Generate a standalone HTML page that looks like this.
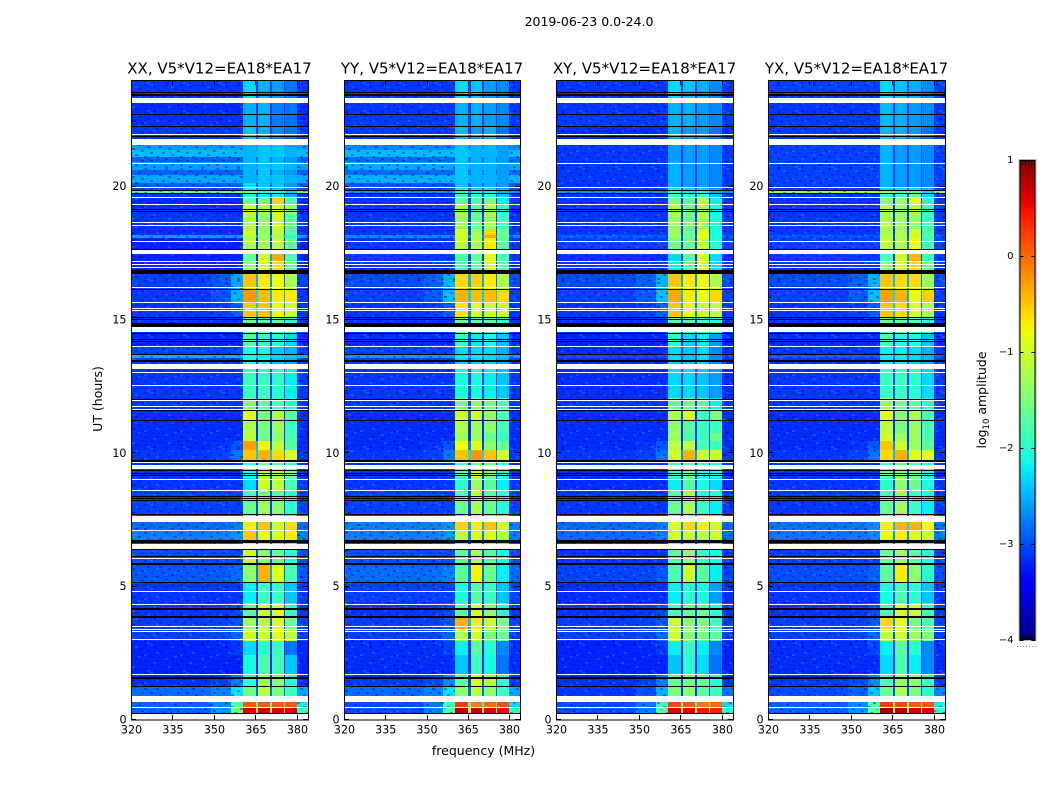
<!DOCTYPE html>
<html lang="en">
<head>
<meta charset="utf-8">
<title>2019-06-23 0.0-24.0 amplitude waterfall</title>
<style>
html,body{margin:0;padding:0;background:#fff;width:1050px;height:800px;overflow:hidden}
svg{display:block}
text{font-family:"DejaVu Sans","Liberation Sans",sans-serif;fill:#000}
</style>
</head>
<body>
<svg id="chart" xmlns="http://www.w3.org/2000/svg" width="1050" height="800" viewBox="0 0 1050 800">
  <defs>
    <!-- Decorative, hand-placed speckle tile that imitates receiver noise; it carries no data. -->
    <pattern id="grain" x="0" y="0" width="36" height="28" patternUnits="userSpaceOnUse">
      <g fill="#0000a0" fill-opacity="0.4" shape-rendering="crispEdges">
        <rect x="0" y="0" width="3" height="2"/><rect x="9" y="2" width="3" height="2"/><rect x="21" y="0" width="3" height="2"/>
        <rect x="30" y="4" width="3" height="2"/><rect x="3" y="6" width="3" height="2"/><rect x="15" y="6" width="3" height="2"/>
        <rect x="24" y="8" width="3" height="2"/><rect x="33" y="10" width="3" height="2"/><rect x="6" y="12" width="3" height="2"/>
        <rect x="18" y="12" width="3" height="2"/><rect x="0" y="16" width="3" height="2"/><rect x="12" y="16" width="3" height="2"/>
        <rect x="27" y="14" width="3" height="2"/><rect x="21" y="18" width="3" height="2"/><rect x="33" y="20" width="3" height="2"/>
        <rect x="6" y="20" width="3" height="2"/><rect x="15" y="22" width="3" height="2"/><rect x="27" y="24" width="3" height="2"/>
        <rect x="0" y="24" width="3" height="2"/><rect x="9" y="26" width="3" height="2"/><rect x="21" y="26" width="3" height="2"/>
      </g>
      <g fill="#30a0ff" fill-opacity="0.3" shape-rendering="crispEdges">
        <rect x="6" y="0" width="3" height="2"/><rect x="27" y="2" width="3" height="2"/><rect x="12" y="8" width="3" height="2"/>
        <rect x="0" y="10" width="3" height="2"/><rect x="30" y="12" width="3" height="2"/><rect x="21" y="14" width="3" height="2"/>
        <rect x="9" y="18" width="3" height="2"/><rect x="24" y="22" width="3" height="2"/><rect x="3" y="26" width="3" height="2"/>
      </g>
    </pattern>
  </defs>
  <rect x="0" y="0" width="1050" height="800" fill="#fff"/>
  <text x="589" y="26" font-size="12.5" text-anchor="middle">2019-06-23 0.0-24.0</text>
  <text x="0" y="0" font-size="12.5" text-anchor="middle" transform="translate(102 399) rotate(-90)">UT (hours)</text>
  <text x="483.5" y="755" font-size="12.5" text-anchor="middle">frequency (MHz)</text>
  <text x="0" y="0" font-size="12.5" text-anchor="middle" transform="translate(986 400) rotate(-90)">log<tspan font-size="8.5" dy="3">10</tspan><tspan dy="-3"> amplitude</tspan></text>
  <g id="panels"></g>
  <g id="colorbar"></g>
</svg>
<script>
// ---- Axis tick labels ----
const freqTicks = [320, 335, 350, 365, 380];
const utTicks = [0, 5, 10, 15, 20];
const colorTicks = [1, 0, -1, -2, -3, -4];

// ---- Row boundaries (UT hours, top to bottom); rows share these across polarisations ----
const rowEdgesUT = [24.0,23.12,22.29,21.58,21.36,21.13,20.91,20.61,20.42,20.12,19.97,19.86,19.78,19.63,19.33,18.96,18.43,18.17,18.06,17.49,17.19,16.74,16.11,15.66,15.13,14.53,14.01,13.71,13.56,13.18,12.06,11.64,11.23,10.78,10.48,10.11,9.66,9.43,9.06,8.61,8.23,7.41,7.14,6.62,5.83,5.16,4.37,3.81,3.36,2.98,2.42,1.74,1.26,0.88,0.66,0.47,0.24];

// ---- Frequency ranges (MHz) of each spectral group ----
const backgroundRange = [320, 349];
const nearShoulderRange = [349, 356];
const shoulderRange = [356, 360.5];
const subbandRanges = [[360.5, 365.2], [366, 370.3], [371, 375.3], [375.7, 380]];
const tailRange = [380, 384];

// ---- log10 amplitude per row: [background, subband1, subband2, subband3, subband4] ----
const xxLevels = [
[-3.1,-2.3,-2.5,-2.6,-2.8],[-3.15,-2.5,-2.5,-2.75,-2.8],[-3.1,-2.4,-2.5,-2.7,-2.8],
[-2.6,-2.5,-2.4,-2.4,-2.55],[-2.45,-2.5,-2.4,-2.4,-2.5],[-2.9,-2.5,-2.4,-2.5,-2.6],[-2.6,-2.5,-2.4,-2.4,-2.5],[-2.9,-2.5,-2.4,-2.5,-2.6],[-2.55,-2.5,-2.4,-2.4,-2.5],[-2.9,-2.3,-2.4,-2.4,-2.6],
[-3.0,-2.2,-2.3,-2.4,-2.6],[-1.6,-1.5,-2.0,-2.0,-2.3],[-3.1,-2.1,-2.2,-2.2,-2.5],
[-3.15,-1.6,-1.5,-0.55,-1.8],[-3.15,-1.0,-1.15,-0.95,-1.4],[-3.1,-1.2,-1.35,-1.0,-1.7],[-3.15,-1.0,-1.3,-1.1,-1.7],[-2.6,-1.15,-1.3,-1.2,-2.0],[-3.2,-1.15,-1.3,-1.1,-1.7],
[-3.2,-1.6,-1.0,-0.35,-1.8],[-3.2,-1.4,-1.0,-0.6,-1.7],[-3.05,-0.5,-0.7,-0.8,-1.2],[-3.1,-0.25,-0.45,-0.7,-0.7],[-3.1,-0.5,-0.5,-0.8,-1.0],[-3.1,-1.6,-1.7,-1.7,-2.0],
[-3.2,-1.8,-1.9,-2.0,-2.3],[-3.05,-2.1,-2.1,-2.4,-2.5],[-2.5,-2.1,-2.2,-2.3,-2.4],[-3.05,-2.1,-2.1,-2.4,-2.5],[-3.1,-1.9,-1.9,-2.0,-2.2],
[-3.1,-1.5,-1.7,-1.8,-2.1],[-3.15,-0.9,-1.5,-1.2,-1.7],[-3.15,-1.2,-1.5,-1.3,-1.9],[-3.15,-1.1,-1.6,-1.4,-1.8],[-3.15,-0.3,-0.75,-1.1,-1.7],[-3.1,-0.5,-0.4,-0.6,-0.9],
[-3.1,-1.9,-1.6,-1.7,-2.0],[-3.1,-2.1,-1.1,-1.1,-1.5],[-3.1,-2.3,-1.0,-1.1,-1.8],[-3.05,-1.8,-1.5,-1.7,-2.0],[-3.05,-1.6,-1.3,-1.4,-2.0],
[-2.85,-0.7,-0.5,-1.0,-0.6],[-2.75,-0.5,-0.8,-0.9,-0.7],[-3.0,-1.0,-1.4,-1.6,-2.0],[-2.95,-1.4,-0.4,-0.9,-1.8],[-3.1,-2.2,-1.9,-1.9,-2.4],
[-3.1,-1.7,-1.0,-0.9,-1.9],[-3.05,-1.3,-1.1,-0.9,-1.6],[-3.05,-1.0,-1.0,-0.9,-1.1],[-3.2,-2.3,-2.0,-1.9,-2.8],[-3.2,-2.1,-1.8,-1.85,-2.4],
[-3.15,-2.0,-1.3,-1.4,-2.0],[-2.85,-1.6,-1.1,-1.5,-1.9],[-2.9,0.0,0.0,0.0,0.0],[-2.9,0.1,0.1,0.1,0.1],[-2.9,0.65,0.65,0.6,0.6]
];
const yyLevels = [
[-3.1,-2.3,-2.4,-2.6,-2.7],[-3.1,-2.5,-2.5,-2.6,-2.7],[-3.1,-2.45,-2.6,-2.5,-2.8],
[-2.7,-2.4,-2.5,-2.5,-2.6],[-2.45,-2.4,-2.5,-2.5,-2.6],[-2.85,-2.4,-2.5,-2.5,-2.6],[-2.55,-2.4,-2.5,-2.5,-2.6],[-2.85,-2.4,-2.5,-2.5,-2.6],[-2.5,-2.4,-2.5,-2.5,-2.6],[-2.95,-2.4,-2.5,-2.5,-2.6],
[-3.0,-2.2,-2.3,-2.3,-2.5],[-2.6,-2.0,-2.2,-2.2,-2.5],[-3.1,-1.9,-2.0,-2.0,-2.4],
[-3.1,-1.7,-1.75,-1.5,-2.2],[-3.1,-1.2,-1.7,-1.2,-1.9],[-3.1,-1.3,-1.6,-1.3,-1.9],[-3.1,-1.0,-1.3,-0.6,-1.6],[-2.7,-1.0,-1.2,-0.35,-1.6],[-3.1,-1.1,-1.2,-0.7,-1.7],
[-3.1,-1.8,-1.6,-0.9,-1.8],[-3.1,-1.9,-1.7,-1.0,-1.8],[-3.0,-0.6,-0.55,-0.7,-1.2],[-3.05,-0.4,-0.45,-0.45,-0.6],[-3.1,-0.65,-0.9,-1.0,-1.0],[-3.1,-1.6,-1.7,-1.7,-1.9],
[-3.15,-1.9,-2.2,-2.1,-2.4],[-3.05,-2.3,-2.3,-2.3,-2.5],[-2.6,-2.2,-2.2,-2.3,-2.4],[-3.05,-2.3,-2.3,-2.3,-2.5],[-3.1,-2.1,-2.1,-2.2,-2.4],
[-3.1,-1.6,-1.4,-1.6,-1.8],[-3.15,-1.0,-1.0,-1.3,-1.8],[-3.15,-1.2,-1.3,-1.4,-1.8],[-3.15,-1.3,-1.3,-1.6,-1.9],[-3.15,-0.8,-0.9,-1.4,-1.6],[-3.1,-0.5,-0.25,-0.5,-1.0],
[-3.1,-1.9,-1.6,-1.7,-2.0],[-3.1,-1.7,-1.0,-1.5,-1.9],[-3.1,-2.0,-1.3,-1.7,-2.2],[-3.05,-1.7,-1.1,-1.7,-1.9],[-3.05,-1.6,-1.2,-1.6,-2.0],
[-2.75,-0.55,-0.7,-0.5,-1.0],[-2.75,-1.1,-0.9,-0.9,-1.2],[-3.0,-1.7,-1.2,-1.7,-2.1],[-2.85,-1.7,-0.75,-1.6,-2.2],[-3.05,-2.1,-1.7,-1.9,-2.4],
[-3.1,-1.7,-0.9,-1.4,-2.0],[-3.05,-0.4,-0.7,-1.0,-1.5],[-3.05,-1.2,-1.0,-1.5,-1.6],[-3.15,-2.2,-1.7,-2.0,-2.7],[-3.15,-2.4,-1.9,-2.1,-2.8],
[-3.1,-1.7,-0.9,-1.2,-2.0],[-2.85,-1.4,-1.1,-1.4,-1.9],[-3.0,0.0,0.0,0.0,0.0],[-3.0,0.25,-0.1,0.0,0.15],[-3.0,0.75,0.7,0.6,0.5]
];
const xyLevels = [
[-3.1,-2.3,-2.4,-2.5,-2.7],[-3.1,-2.5,-2.5,-2.6,-2.7],[-3.15,-2.5,-2.6,-2.6,-2.8],
[-3.1,-2.6,-2.6,-2.6,-2.7],[-3.1,-2.6,-2.6,-2.6,-2.7],[-3.1,-2.6,-2.6,-2.6,-2.7],[-3.1,-2.5,-2.6,-2.6,-2.7],[-3.1,-2.5,-2.6,-2.6,-2.7],[-3.1,-2.5,-2.6,-2.6,-2.7],[-3.1,-2.5,-2.6,-2.6,-2.7],
[-3.05,-2.2,-2.3,-2.3,-2.6],[-2.6,-2.0,-2.2,-2.1,-2.5],[-3.1,-1.9,-2.0,-1.9,-2.4],
[-3.1,-1.5,-1.7,-1.1,-2.2],[-3.1,-1.2,-1.6,-1.2,-2.1],[-3.1,-1.3,-1.55,-1.2,-2.1],[-3.1,-1.3,-1.6,-0.9,-2.1],[-2.9,-1.3,-1.6,-0.8,-2.1],[-3.05,-1.5,-1.6,-1.0,-2.0],
[-3.15,-2.3,-1.7,-0.9,-2.3],[-3.1,-2.2,-1.7,-0.9,-2.3],[-3.0,-0.5,-0.7,-0.8,-1.2],[-3.05,-0.35,-0.7,-0.8,-0.6],[-3.1,-0.5,-0.8,-1.0,-1.1],[-3.1,-1.8,-1.7,-1.8,-2.0],
[-3.2,-2.0,-2.3,-2.2,-2.6],[-3.15,-2.3,-2.4,-2.3,-2.7],[-3.0,-2.3,-2.4,-2.3,-2.7],[-3.15,-2.3,-2.4,-2.3,-2.7],[-3.15,-2.3,-2.3,-2.4,-2.6],
[-3.1,-1.7,-1.6,-1.7,-2.2],[-3.15,-1.2,-0.9,-1.9,-1.5],[-3.15,-1.4,-1.7,-1.9,-1.9],[-3.15,-1.3,-1.8,-1.9,-1.6],[-3.15,-1.1,-1.1,-1.8,-1.9],[-3.1,-1.0,-0.4,-1.0,-1.0],
[-3.1,-1.9,-1.6,-1.9,-2.1],[-3.15,-1.9,-1.5,-2.0,-2.0],[-3.15,-2.2,-1.7,-2.1,-2.3],[-3.1,-1.7,-1.2,-2.0,-2.0],[-3.1,-1.6,-1.2,-1.9,-2.2],
[-2.85,-0.9,-0.6,-0.7,-1.0],[-2.85,-1.0,-1.0,-1.1,-1.0],[-3.1,-1.7,-1.3,-1.9,-2.1],[-3.05,-1.8,-1.0,-1.7,-2.2],[-3.15,-2.2,-2.0,-2.1,-2.6],
[-3.1,-1.8,-1.6,-1.6,-2.0],[-3.05,-1.0,-1.4,-1.5,-1.9],[-3.05,-1.0,-1.4,-1.5,-1.7],[-3.2,-2.2,-1.9,-2.2,-2.7],[-3.2,-2.4,-2.0,-2.3,-2.8],
[-3.15,-1.6,-1.5,-1.6,-2.0],[-3.1,-1.5,-1.4,-1.7,-1.9],[-3.0,0.0,0.0,0.0,0.0],[-3.0,0.2,0.1,-0.05,0.0],[-3.0,0.6,0.55,0.45,0.4]
];
const yxLevels = [
[-3.05,-2.3,-2.4,-2.5,-2.7],[-3.1,-2.45,-2.5,-2.6,-2.7],[-3.1,-2.45,-2.5,-2.6,-2.8],
[-3.05,-2.5,-2.6,-2.6,-2.7],[-3.05,-2.5,-2.6,-2.6,-2.7],[-3.05,-2.5,-2.6,-2.6,-2.7],[-3.05,-2.5,-2.6,-2.6,-2.7],[-3.05,-2.5,-2.6,-2.6,-2.7],[-3.05,-2.5,-2.6,-2.6,-2.7],[-3.05,-2.5,-2.6,-2.6,-2.7],
[-3.05,-2.3,-2.3,-2.3,-2.5],[-1.3,-1.4,-2.0,-1.8,-2.3],[-3.1,-2.0,-1.9,-1.6,-2.3],
[-3.1,-1.4,-1.3,-0.8,-2.0],[-3.1,-1.15,-1.3,-1.2,-1.9],[-3.1,-1.2,-1.3,-1.3,-1.9],[-3.1,-1.2,-1.2,-1.0,-1.8],[-2.95,-1.2,-1.2,-1.0,-1.8],[-3.05,-1.1,-1.2,-0.8,-1.9],
[-3.1,-1.8,-1.0,-0.4,-1.9],[-3.1,-1.4,-0.9,-0.6,-1.6],[-3.0,-0.5,-0.6,-0.6,-1.3],[-3.05,-0.3,-0.4,-0.8,-0.55],[-3.1,-0.5,-0.6,-0.9,-1.2],[-3.1,-1.6,-1.7,-1.8,-2.0],
[-3.15,-1.8,-2.0,-2.1,-2.4],[-3.1,-2.2,-2.2,-2.3,-2.5],[-2.9,-2.2,-2.2,-2.3,-2.5],[-3.1,-2.2,-2.2,-2.3,-2.5],[-3.1,-1.9,-1.9,-2.0,-2.3],
[-3.1,-1.3,-1.6,-1.7,-2.0],[-3.15,-0.9,-1.4,-1.2,-1.8],[-3.15,-1.1,-1.5,-1.3,-1.8],[-3.15,-1.0,-1.3,-1.3,-1.8],[-3.15,-0.5,-1.0,-1.3,-1.7],[-3.1,-0.6,-0.4,-0.9,-0.9],
[-3.1,-1.9,-1.6,-1.7,-2.0],[-3.1,-1.6,-1.4,-1.5,-1.9],[-3.1,-2.0,-1.4,-1.6,-2.1],[-3.1,-1.8,-1.3,-1.9,-2.1],[-3.1,-1.6,-1.25,-1.9,-2.2],
[-2.8,-0.7,-0.4,-0.4,-0.8],[-2.8,-0.8,-0.7,-0.9,-1.0],[-3.05,-1.6,-1.3,-1.7,-2.0],[-3.0,-1.7,-0.7,-1.4,-2.0],[-3.1,-2.1,-1.8,-2.0,-2.4],
[-3.1,-1.8,-0.9,-1.0,-1.9],[-3.05,-0.6,-0.8,-1.5,-1.8],[-3.05,-1.1,-1.0,-1.3,-1.5],[-3.15,-2.2,-1.7,-2.0,-2.7],[-3.15,-2.3,-1.8,-2.2,-2.7],
[-3.1,-1.8,-1.3,-1.4,-1.9],[-3.0,-1.6,-1.2,-1.5,-2.0],[-2.9,0.0,0.0,0.0,0.0],[-2.9,0.25,0.2,0.1,0.1],[-2.9,0.85,0.75,0.65,0.6]
];

// ---- Rise above background just below subband 1 and above subband 4, per row ----
const shoulderLift = [0,0,0,0,0,0,0,0,0,0,0,0,0,0,0,0,0,0,0,0,0,0.5,0.6,0.2,0,0,0,0,0,0,0,0,0,0,0.2,0.3,0,0,0,0,0,0.1,0.1,0,0.1,0,0.1,0.1,0.2,0.1,0,0.4,0.6,0.9,1.1,1.3];
const tailLift = [0,0,0,0,0,0,0,0,0,0,0,0,0,0,0,0,0,0,0,0,0,0,0,0,0,0,0,0,0,0,0,0,0,0,0,0,0,0,0,0,0,0,0,0,0,0,0,0,0,0,0,0,0.3,0.5,0.7,1.0];

// ---- Flagged time ranges (UT hours): white = no data, black = masked ----
const whiteBands = [[23.33,23.12],[21.78,21.58],[17.62,17.49],[14.75,14.56],[13.34,13.18],[9.55,9.43],[7.66,7.41],[6.61,6.43],[0.89,0.66],[0.24,0]];
const whiteLines = [21.98,20.9,19.97,19.62,19.36,18.68,18.58,17.97,17.22,17.09,16.97,16.25,15.68,15.46,15.37,14.03,13.06,12.57,12.01,11.77,11.67,9.66,9.05,8.62,7.13,6.08,4.84,4.34,3.53,3.43,3.35,3.02,1.73,0.47];
const blackBands = [[17.68,17.62],[16.87,16.74],[14.87,14.75],[13.49,13.43],[9.74,9.68],[6.74,6.62],[5.87,5.81],[4.2,4.14],[3.91,3.83],[1.61,1.53],[0.28,0.25]];
const blackLines = [23.56,23.49,23.43,22.73,22.28,21.91,19.89,19.77,19.16,19.08,16.16,15.12,15.03,14.53,14.28,14.21,13.71,12.05,11.64,11.26,9.36,9.26,9.17,8.39,8.33,8.24,7.72,6.41,6.14,5.18,1.28];

// ---- Panel text and levels ----
const panelTitles = ["XX, V5*V12=EA18*EA17", "YY, V5*V12=EA18*EA17", "XY, V5*V12=EA18*EA17", "YX, V5*V12=EA18*EA17"];
const panelSlugs = ["xx", "yy", "xy", "yx"];
const panelLevels = [xxLevels, yyLevels, xyLevels, yxLevels];

const NS = "http://www.w3.org/2000/svg";
const panelBoxes = [[131,177],[344,176],[556,177],[768,177]];
const plotTop = 80, plotBottom = 720;
const cbLeft = 1019.5, cbRight = 1035.5, cbTop = 160, cbBottom = 640;

function make(tag, parent, attrs, text) {
  const el = document.createElementNS(NS, tag);
  for (const k in attrs) el.setAttribute(k, attrs[k]);
  if (text !== undefined) el.textContent = text;
  parent.appendChild(el);
  return el;
}
function jet(v) {
  const f = Math.max(0, Math.min(1, (v + 4) / 5));
  const clamp = t => Math.max(0, Math.min(1, t));
  const r = f < 0.35 ? 0 : f < 0.66 ? (f - 0.35) / 0.31 : f < 0.89 ? 1 : 1 - (f - 0.89) / 0.11 * 0.5;
  const g = f < 0.125 ? 0 : f < 0.375 ? (f - 0.125) / 0.25 : f < 0.64 ? 1 : f < 0.91 ? 1 - (f - 0.64) / 0.27 : 0;
  const b = f < 0.11 ? 0.5 + f / 0.11 * 0.5 : f < 0.34 ? 1 : f < 0.65 ? 1 - (f - 0.34) / 0.31 : 0;
  return "rgb(" + Math.round(clamp(r) * 255) + "," + Math.round(clamp(g) * 255) + "," + Math.round(clamp(b) * 255) + ")";
}
const utToY = ut => plotBottom - ut * (plotBottom - plotTop) / 24;
const cbToY = v => cbBottom - (v + 4) * (cbBottom - cbTop) / 5;

function drawPanel(i) {
  const x0 = panelBoxes[i][0], w = panelBoxes[i][1];
  const freqToX = f => x0 + (f - 320) * w / 64;
  const levels = panelLevels[i];
  const root = document.getElementById("panels");
  const g = make("g", root, {});
  
  

  const bg = make("rect", g, {x: x0, y: plotTop, width: w, height: plotBottom - plotTop, fill: "#fff"});
  
  

  const addCell = (row, range, value) => {
    const top = Math.round(utToY(rowEdgesUT[row]));
    const bottom = Math.round(utToY(rowEdgesUT[row + 1]));
    const left = Math.round(freqToX(range[0]));
    const right = Math.round(freqToX(range[1]));
    const cell = make("rect", g, {x: left, y: top, width: right - left, height: bottom - top, fill: jet(value), "shape-rendering": "crispEdges"});
    
    
  };

  for (let r = 0; r < levels.length; r++) {
    const v = levels[r];
    addCell(r, backgroundRange, v[0]);
    addCell(r, nearShoulderRange, v[0] + shoulderLift[r] * 0.2);
    addCell(r, shoulderRange, v[0] + shoulderLift[r]);
    for (let b = 0; b < 4; b++) {
      addCell(r, subbandRanges[b], v[b + 1]);
      if (b < 3) {
        const gapRange = [subbandRanges[b][1], subbandRanges[b + 1][0]];
        addCell(r, gapRange, Math.max(v[0], (v[b + 1] + v[b + 2]) / 2 - 1.9));
      }
    }
    addCell(r, tailRange, v[0] + tailLift[r]);
  }

  const grainLeft = make("rect", g, {x: x0, y: plotTop, width: Math.round(freqToX(shoulderRange[1])) - x0, height: plotBottom - plotTop, fill: "url(#grain)"});
  
  
  const grainRight = make("rect", g, {x: Math.round(freqToX(tailRange[0])), y: plotTop, width: x0 + w - Math.round(freqToX(tailRange[0])), height: plotBottom - plotTop, fill: "url(#grain)"});
  
  

  const addFlag = (top, height, color, name) => {
    const flag = make("rect", g, {x: x0, y: top, width: w, height: height, fill: color, "shape-rendering": "crispEdges"});
    
    
  };
  whiteBands.forEach(b => addFlag(Math.round(utToY(b[0])), Math.round(utToY(b[1])) - Math.round(utToY(b[0])), "#fff", "flagged-band"));
  whiteLines.forEach(u => addFlag(Math.round(utToY(u)), 1, "#fff", "flagged-line"));
  blackBands.forEach(b => addFlag(Math.round(utToY(b[0])), Math.max(1, Math.round(utToY(b[1])) - Math.round(utToY(b[0]))), "#000", "masked-band"));
  blackLines.forEach(u => addFlag(Math.round(utToY(u)), 1, "#000", "masked-line"));

  freqTicks.forEach(f => {
    const x = Math.round(freqToX(f)) + 0.5;
    const t1 = make("line", g, {x1: x, x2: x, y1: plotBottom, y2: plotBottom - 5, stroke: "#000", "stroke-width": 1});
    
    
    const t2 = make("line", g, {x1: x, x2: x, y1: plotTop, y2: plotTop + 5, stroke: "#000", "stroke-width": 1});
    
    
    const lab = make("text", g, {x: freqToX(f) + 0.5, y: 733.5, "font-size": 11.1, "text-anchor": "middle"}, String(f));
    
    
  });
  utTicks.forEach(u => {
    const y = Math.round(utToY(u)) - 0.5;
    const t1 = make("line", g, {x1: x0, x2: x0 + 5, y1: y, y2: y, stroke: "#000", "stroke-width": 1});
    
    
    const t2 = make("line", g, {x1: x0 + w, x2: x0 + w - 5, y1: y, y2: y, stroke: "#000", "stroke-width": 1});
    
    
    const lab = make("text", g, {x: x0 - 4.5, y: utToY(u) + 3.5, "font-size": 11.1, "text-anchor": "end"}, String(u));
    
    
  });

  const frame = make("rect", g, {x: x0 + 0.5, y: plotTop + 0.5, width: w, height: plotBottom - plotTop - 0.5, fill: "none", stroke: "#000", "stroke-width": 1});
  
  

  const title = make("text", g, {x: x0 + w / 2, y: 73.5, "font-size": 15, "text-anchor": "middle"}, panelTitles[i]);
  
  
}
panelTitles.forEach((_, i) => drawPanel(i));

// ---- Colour bar ----
(function drawColorbar() {
  const g = document.getElementById("colorbar");
  for (let py = cbTop; py < cbBottom; py += 2) {
    const v = 1 - (py + 1 - cbTop) * 5 / (cbBottom - cbTop);
    const seg = make("rect", g, {x: cbLeft, y: py, width: cbRight - cbLeft, height: 2, fill: jet(v), "shape-rendering": "crispEdges"});
    
    
  }
  const outer = make("rect", g, {x: cbLeft - 0.5, y: cbTop - 0.5, width: cbRight - cbLeft + 1, height: cbBottom - cbTop + 1, fill: "none", stroke: "#b4b4b4", "stroke-width": 1});
  
  
  const frame = make("rect", g, {x: cbLeft + 0.5, y: cbTop + 0.5, width: cbRight - cbLeft - 1, height: cbBottom - cbTop - 1, fill: "none", stroke: "#000", "stroke-width": 1});
  
  
  colorTicks.forEach(v => {
    const y = Math.round(cbToY(v)) + 0.5;
    const t1 = make("line", g, {x1: cbLeft, x2: cbLeft + 4, y1: y, y2: y, stroke: "#000"});
    
    
    const t2 = make("line", g, {x1: cbRight, x2: cbRight - 4, y1: y, y2: y, stroke: "#000"});
    
    
    const lab = make("text", g, {x: 1013.5, y: cbToY(v) + 3, "font-size": 10, "text-anchor": "end"}, v < 0 ? "\u2212" + (-v) : String(v));
    
    
  });
  for (let k = 0; k < 5; k++) {
    const x = 1022.5 + k * 3;
    const m1 = make("line", g, {x1: x, x2: x, y1: cbTop, y2: cbTop + 5, stroke: "#000"});
    
    
    const m2 = make("line", g, {x1: x, x2: x, y1: cbBottom, y2: cbBottom - 5, stroke: "#000"});
    
    
  }
  for (let k = 0; k < 7; k++) {
    const dot = make("rect", g, {x: 1017 + k * 3, y: 646, width: 1, height: 1, fill: "#888"});
    
    
  }
})();
</script>
</body>
</html>
